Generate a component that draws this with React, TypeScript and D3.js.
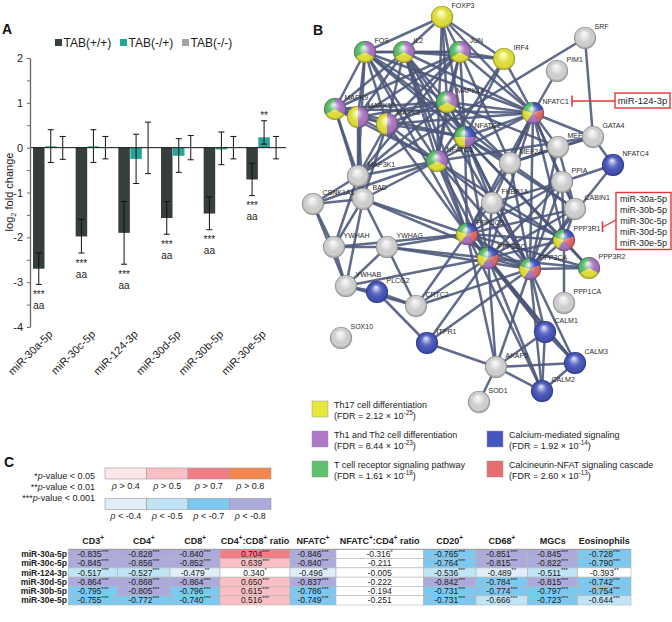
import React, { useEffect, useRef } from 'react';
import * as d3 from 'd3';

const FONT = '"Liberation Sans", Arial, Helvetica, sans-serif';

// ---------- panel A: qPCR fold changes
const mirnas = ['miR-30a-5p', 'miR-30c-5p', 'miR-124-3p', 'miR-30d-5p', 'miR-30b-5p', 'miR-30e-5p'];
const genotypes = ['TAB(+/+)', 'TAB(-/+)', 'TAB(-/-)'];
const genoColors = ['#363f3b', '#27a596', '#a3a3a3'];
const wtMean = [-2.7, -1.98, -1.9, -1.57, -1.47, -0.71];
const wtHi = [-2.35, -1.6, -1.2, -1.2, -1.1, -0.35];
const wtLo = [-3.05, -2.35, -2.6, -1.93, -1.83, -1.07];
const hetMean = [0.03, 0.03, -0.25, -0.18, -0.04, 0.23];
const hetHi = [0.4, 0.4, 0.3, 0.2, 0.35, 0.6];
const hetLo = [-0.33, -0.33, -0.8, -0.55, -0.38, 0.08];
const koMean = [0, 0, 0, 0, 0, 0];
const koHi = [0.25, 0.25, 0.57, 0.27, 0.25, 0.25];
const koLo = [-0.26, -0.25, -0.58, -0.27, -0.25, -0.25];
const wtStars = ['***', '***', '***', '***', '***', '***'];
const wtLetters = ['aa', 'aa', 'aa', 'aa', 'aa', 'aa'];
const hetStars = ['', '', '', '', '', '**'];
const yTicks = [-4, -3.5, -3, -2.5, -2, -1.5, -1, -0.5, 0, 0.5, 1, 1.5, 2];

// ---------- panel B: STRING network
const catColors: Record<string, string> = {
  B: '#4656bf', R: '#e56d6d', P: '#ad78c6', Y: '#e8e83c', G: '#5fc06e',
};
// name, layout x, layout y, enrichment categories
const nodes: [string, number, number, string][] = [
  ['FOXP3', 142, 17, 'Y'], ['FOS', 65, 52, 'PYG'], ['IL2', 104, 52, 'PYG'], ['JUN', 160, 52, 'PYG'],
  ['IRF4', 204, 59, 'Y'], ['SRF', 285, 38, ''], ['PIM1', 257, 71, ''], ['MAPK9', 35, 109, 'PYG'],
  ['MAPK10', 58, 117, 'PY'], ['MAPK8', 87, 124, 'PY'], ['MAPK14', 147, 102, 'PYG'],
  ['NFATC1', 233, 113, 'BRPYG'], ['NFATC2', 165, 137, 'BPYG'], ['NFATC3', 137, 161, 'PYG'],
  ['MAP3K1', 58, 176, ''], ['BAD', 63, 199, ''], ['CSNK1A1', 13, 204, ''], ['YWHAH', 34, 247, ''],
  ['YWHAG', 87, 247, ''], ['YWHAB', 46, 286, ''], ['PLCG2', 77, 292, 'B'], ['CRTC2', 116, 306, ''],
  ['SOX10', 41, 338, ''], ['ITPR1', 127, 343, 'B'], ['MEF2A', 210, 163, ''], ['MEF2C', 258, 147, ''],
  ['GATA4', 293, 137, ''], ['NFATC4', 313, 165, 'B'], ['PPIA', 262, 182, ''], ['CABIN1', 275, 209, ''],
  ['FKBP1A', 192, 203, ''], ['PPP3CB', 167, 234, 'BRPYG'], ['PPP3CC', 188, 258, 'BRPYG'],
  ['PPP3R1', 264, 240, 'BRPYG'], ['PPP3CA', 230, 269, 'BRPYG'], ['PPP3R2', 289, 268, 'PYG'],
  ['PPP1CA', 264, 303, ''], ['CALM1', 245, 332, 'B'], ['CALM3', 275, 363, 'B'], ['CALM2', 242, 391, 'B'],
  ['AKAP5', 196, 367, ''], ['SOD1', 179, 402, ''],
];
// labels that sit underneath a neighbouring node
const labelsUnder = ['MEF2C'];
const links: Record<string, string[]> = {
  FOXP3: ['FOS', 'IL2', 'JUN', 'NFATC1', 'NFATC2', 'IRF4', 'MAPK14', 'NFATC3'],
  FOS: ['IL2', 'JUN', 'MAPK9', 'MAPK10', 'MAPK8', 'MAPK14', 'NFATC1', 'NFATC2', 'NFATC3', 'MAP3K1', 'PPP3CB', 'MEF2A'],
  IL2: ['JUN', 'MAPK9', 'MAPK8', 'MAPK14', 'NFATC1', 'NFATC2', 'NFATC3', 'PPP3CA', 'PPP3CB', 'PPP3CC', 'IRF4', 'MAPK10'],
  JUN: ['MAPK9', 'MAPK10', 'MAPK8', 'MAPK14', 'NFATC1', 'NFATC2', 'NFATC3', 'IRF4', 'MAP3K1', 'MEF2A'],
  IRF4: ['NFATC1', 'NFATC2', 'NFATC3'],
  MAPK9: ['MAPK10', 'MAPK8', 'MAP3K1', 'MAPK14', 'NFATC3', 'NFATC2', 'NFATC1', 'BAD'],
  MAPK10: ['MAPK8', 'MAP3K1', 'MAPK14', 'NFATC3', 'BAD'],
  MAPK8: ['MAP3K1', 'MAPK14', 'NFATC3', 'NFATC2', 'NFATC1', 'BAD', 'PPP3CB'],
  MAPK14: ['NFATC1', 'NFATC2', 'NFATC3', 'MAP3K1', 'MEF2A', 'MEF2C', 'PPP3CA'],
  NFATC1: ['NFATC2', 'NFATC3', 'PPP3CA', 'PPP3CB', 'PPP3CC', 'PPP3R1', 'MEF2A', 'MEF2C', 'GATA4', 'PIM1', 'FKBP1A', 'CABIN1', 'PPIA'],
  NFATC2: ['NFATC3', 'PPP3CA', 'PPP3CB', 'PPP3CC', 'PPP3R1', 'MEF2A', 'FKBP1A', 'CABIN1', 'PPP3R2'],
  NFATC3: ['PPP3CA', 'PPP3CB', 'PPP3CC', 'PPP3R1', 'MAP3K1', 'FKBP1A', 'BAD', 'GATA4', 'CSNK1A1'],
  MAP3K1: ['BAD', 'CSNK1A1', 'YWHAH'],
  SRF: ['GATA4', 'MAP3K1'],
  GATA4: ['MEF2C', 'MEF2A', 'NFATC4'],
  NFATC4: ['PPIA', 'PPP3CA'],
  MEF2A: ['MEF2C', 'PPP3CA', 'CABIN1', 'PPP3CB'],
  MEF2C: ['PPP3CA', 'CABIN1'],
  PPIA: ['PPP3CA', 'PPP3CB', 'PPP3CC', 'FKBP1A', 'PPP3R1', 'CABIN1'],
  CABIN1: ['PPP3CA', 'PPP3CB', 'PPP3R1', 'PPP3CC'],
  FKBP1A: ['PPP3CA', 'PPP3CB', 'PPP3CC', 'PPP3R1'],
  PPP3CB: ['PPP3CC', 'PPP3CA', 'PPP3R1', 'PPP3R2', 'CALM1', 'CALM2', 'CALM3', 'AKAP5', 'YWHAG', 'YWHAH', 'CRTC2', 'BAD'],
  PPP3CC: ['PPP3CA', 'PPP3R1', 'PPP3R2', 'CALM1', 'CALM2', 'CALM3', 'AKAP5', 'YWHAG', 'CRTC2', 'ITPR1', 'YWHAB'],
  PPP3CA: ['PPP3R1', 'PPP3R2', 'CALM1', 'CALM2', 'CALM3', 'AKAP5', 'CRTC2', 'ITPR1', 'YWHAG', 'BAD'],
  PPP3R1: ['PPP3R2', 'PPP1CA'],
  CALM1: ['CALM2', 'CALM3', 'AKAP5'],
  CALM2: ['CALM3', 'AKAP5'],
  CALM3: ['AKAP5'],
  AKAP5: ['SOD1', 'ITPR1'],
  ITPR1: ['PLCG2'],
  PLCG2: ['YWHAB', 'CRTC2'],
  CRTC2: ['YWHAB', 'YWHAG'],
  YWHAH: ['YWHAG', 'YWHAB', 'BAD', 'CSNK1A1'],
  YWHAG: ['YWHAB', 'BAD'],
  YWHAB: ['BAD', 'CSNK1A1'],
  CSNK1A1: ['BAD'],
};
const mirTargets = [['miR-124-3p'], ['miR-30a-5p', 'miR-30b-5p', 'miR-30c-5p', 'miR-30d-5p', 'miR-30e-5p']];
const pathways = [
  { name: 'Th17 cell differentiation', fdr: '2.12 × 10{-25}', cat: 'Y' },
  { name: 'Th1 and Th2 cell differentiation', fdr: '8.44 × 10{-23}', cat: 'P' },
  { name: 'T cell receptor signaling pathway', fdr: '1.61 × 10{-18}', cat: 'G' },
  { name: 'Calcium-mediated signaling', fdr: '1.92 × 10{-14}', cat: 'B' },
  { name: 'Calcineurin-NFAT signaling cascade', fdr: '2.60 × 10{-13}', cat: 'R' },
];

// ---------- panel C: correlation table
const pLegend = [['*', ' < 0.05'], ['**', ' < 0.01'], ['***', ' < 0.001']];
const posBins = ['> 0.4', '> 0.5', '> 0.7', '> 0.8'];
const negBins = ['< -0.4', '< -0.5', '< -0.7', '< -0.8'];
const posColors = ['#fde5e8', '#f9bfc4', '#f27e85', '#f4874f'];
const negColors = ['#dfeef9', '#bfe4f6', '#7cc8ef', '#abaadb'];
const colHeaders = ['CD3{+}', 'CD4{+}', 'CD8{+}', 'CD4{+}:CD8{+} ratio', 'NFATC{+}', 'NFATC{+}:CD4{+} ratio', 'CD20{+}', 'CD68{+}', 'MGCs', 'Eosinophils'];
const rowHeaders = ['miR-30a-5p', 'miR-30c-5p', 'miR-124-3p', 'miR-30d-5p', 'miR-30b-5p', 'miR-30e-5p'];
const rho = [
  [-0.835, -0.828, -0.84, 0.704, -0.846, -0.316, -0.765, -0.851, -0.845, -0.728],
  [-0.845, -0.856, -0.852, 0.639, -0.84, -0.211, -0.764, -0.815, -0.822, -0.79],
  [-0.517, -0.527, -0.479, 0.34, -0.496, -0.005, -0.536, -0.489, -0.511, -0.393],
  [-0.864, -0.868, -0.864, 0.65, -0.837, -0.222, -0.842, -0.784, -0.815, -0.742],
  [-0.795, -0.805, -0.796, 0.615, -0.786, -0.194, -0.731, -0.774, -0.797, -0.754],
  [-0.755, -0.772, -0.74, 0.516, -0.749, -0.251, -0.731, -0.666, -0.723, -0.644],
];
const rhoSig = [
  ['***', '***', '***', '***', '***', '*', '***', '***', '***', '***'],
  ['***', '***', '***', '***', '***', '', '***', '***', '***', '***'],
  ['***', '***', '**', '*', '**', '', '***', '**', '***', '**'],
  ['***', '***', '***', '***', '***', '', '***', '***', '***', '***'],
  ['***', '***', '***', '***', '***', '', '***', '***', '***', '***'],
  ['***', '***', '***', '***', '***', '', '***', '***', '***', '***'],
];
const colWidths = [49.4, 52.3, 50, 70, 46, 87.3, 52.7, 51.7, 50, 53.3];

// text with {superscript} runs
function rich(t: any, s: string, size: number) {
  const parts = s.split(/(\{[^}]*\})/).filter((p) => p.length);
  let up = false;
  parts.forEach((p) => {
    const sup = p.startsWith('{');
    const ts = t.append('tspan').text(sup ? p.slice(1, -1) : p);
    if (sup) {
      ts.attr('font-size', size * 0.7).attr('dy', -size * 0.38);
      up = true;
    } else if (up) {
      ts.attr('dy', size * 0.38);
      up = false;
    }
  });
  return t;
}

export default function App() {
  const ref = useRef<SVGSVGElement>(null);

  useEffect(() => {
    const svg = d3.select(ref.current);
    svg.selectAll('*').remove();
    svg.attr('font-family', FONT);

    const defs = svg.append('defs');
    const gl = defs.append('radialGradient').attr('id', 'gloss')
      .attr('cx', '50%').attr('cy', '50%').attr('r', '50%').attr('fx', '45%').attr('fy', '28%');
    gl.append('stop').attr('offset', '0%').attr('stop-color', '#fff').attr('stop-opacity', 0.9);
    gl.append('stop').attr('offset', '40%').attr('stop-color', '#fff').attr('stop-opacity', 0.2);
    gl.append('stop').attr('offset', '80%').attr('stop-color', '#000').attr('stop-opacity', 0.04);
    gl.append('stop').attr('offset', '100%').attr('stop-color', '#000').attr('stop-opacity', 0.3);

    // ===== panel labels
    const letters: [string, number, number][] = [['A', 2, 34], ['B', 313, 35], ['C', 4, 467]];
    letters.forEach(([l, x, yy]) => svg.append('text').attr('x', x).attr('y', yy)
      .attr('font-size', 14).attr('font-weight', 'bold').attr('fill', '#111').text(l));

    // ===== panel A
    const y = d3.scaleLinear().domain([-4, 2]).range([327, 58]);
    const x0 = d3.scaleBand().domain(mirnas).range([30, 286]);
    const x1 = d3.scaleBand().domain(genotypes).range([3, 38.5]).paddingInner(0.04);
    const gA = svg.append('g');
    const series = [
      { key: genotypes[0], mean: wtMean, hi: wtHi, lo: wtLo, color: genoColors[0] },
      { key: genotypes[1], mean: hetMean, hi: hetHi, lo: hetLo, color: genoColors[1] },
      { key: genotypes[2], mean: koMean, hi: koHi, lo: koLo, color: genoColors[2] },
    ];
    series.forEach((s) => {
      mirnas.forEach((m, i) => {
        const bx = (x0(m) as number) + (x1(s.key) as number);
        const v = s.mean[i];
        gA.append('rect').attr('x', bx).attr('width', x1.bandwidth())
          .attr('y', y(Math.max(0, v))).attr('height', Math.abs(y(v) - y(0)))
          .attr('fill', s.color);
      });
    });
    gA.append('line').attr('x1', 30).attr('x2', 286).attr('y1', y(0)).attr('y2', y(0))
      .attr('stroke', '#111').attr('stroke-width', 1);
    series.forEach((s) => {
      mirnas.forEach((m, i) => {
        const cx = (x0(m) as number) + (x1(s.key) as number) + x1.bandwidth() / 2;
        gA.append('line').attr('x1', cx).attr('x2', cx).attr('y1', y(s.hi[i])).attr('y2', y(s.lo[i]))
          .attr('stroke', '#111').attr('stroke-width', 1);
        [s.hi[i], s.lo[i]].forEach((e) => gA.append('line').attr('x1', cx - 3).attr('x2', cx + 3)
          .attr('y1', y(e)).attr('y2', y(e)).attr('stroke', '#111').attr('stroke-width', 1));
      });
    });
    // significance marks
    mirnas.forEach((m, i) => {
      const cxw = (x0(m) as number) + (x1(genotypes[0]) as number) + x1.bandwidth() / 2;
      gA.append('text').attr('x', cxw).attr('y', y(wtLo[i]) + 13.5).attr('text-anchor', 'middle')
        .attr('font-size', 10).attr('fill', '#222').text(wtStars[i]);
      gA.append('text').attr('x', cxw).attr('y', y(wtLo[i]) + 24.5).attr('text-anchor', 'middle')
        .attr('font-size', 10).attr('fill', '#222').text(wtLetters[i]);
      if (hetStars[i]) {
        const cxh = (x0(m) as number) + (x1(genotypes[1]) as number) + x1.bandwidth() / 2;
        gA.append('text').attr('x', cxh).attr('y', y(hetHi[i]) - 1.5).attr('text-anchor', 'middle')
          .attr('font-size', 10).attr('fill', '#222').text(hetStars[i]);
      }
    });
    // y axis
    const ax = gA.append('g').attr('transform', 'translate(30,0)')
      .call(d3.axisLeft(y).tickValues(yTicks).tickSize(3).tickSizeOuter(0)
        .tickFormat((d: any) => (Number.isInteger(d) ? String(d) : '')) as any);
    ax.select('.domain').attr('stroke', '#666').attr('stroke-width', 1.3);
    ax.selectAll('.tick line').attr('stroke', '#666');
    ax.selectAll('.tick text').attr('font-size', 11).attr('font-family', FONT).attr('fill', '#222').attr('x', -7);
    const yl = gA.append('text').attr('transform', 'translate(13,192) rotate(-90)')
      .attr('text-anchor', 'middle').attr('font-size', 11).attr('fill', '#222');
    yl.append('tspan').text('log');
    yl.append('tspan').attr('font-size', 7.5).attr('dy', 3).text('2');
    yl.append('tspan').attr('dy', -3).text(' fold change');
    // x labels
    mirnas.forEach((m) => {
      const cx = (x0(m) as number) + x0.bandwidth() / 2 + 2;
      gA.append('text').attr('transform', `translate(${cx},335) rotate(-45)`)
        .attr('text-anchor', 'end').attr('font-size', 11).attr('fill', '#222').text(m);
    });
    // legend
    const legX = [55, 120, 182];
    genotypes.forEach((gname, i) => {
      gA.append('rect').attr('x', legX[i]).attr('y', 39).attr('width', 7).attr('height', 7).attr('fill', genoColors[i]);
      gA.append('text').attr('x', legX[i] + 8.5).attr('y', 46.5).attr('font-size', 12).attr('fill', '#222').text(gname);
    });

    // ===== panel B
    const xN = d3.scaleLinear().domain([0, 372]).range([300, 672]);
    const yN = d3.scaleLinear().domain([0, 622]).range([0, 622]);
    const pos = new Map(nodes.map((n) => [n[0], [xN(n[1]), yN(n[2])]]));
    const gB = svg.append('g');
    Object.entries(links).forEach(([a, bs]) => {
      bs.forEach((b) => {
        const pa = pos.get(a)!, pb = pos.get(b)!;
        gB.append('line').attr('x1', pa[0]).attr('y1', pa[1]).attr('x2', pb[0]).attr('y2', pb[1])
          .attr('stroke', '#4a5579').attr('stroke-opacity', 0.88).attr('stroke-width', 2.5);
      });
    });
    const drawLabel = (name: string, lx: number, ly: number) =>
      gB.append('text').attr('x', xN(lx) + 9.5).attr('y', yN(ly) - 9).attr('font-size', 7)
        .attr('fill', '#2a2a2a').text(name);
    nodes.filter((n) => labelsUnder.includes(n[0])).forEach(([name, lx, ly]) => drawLabel(name, lx, ly));
    const order = 'BRPYG';
    const arc = d3.arc<any>().innerRadius(0).outerRadius(11);
    nodes.forEach(([, lx, ly, cats]) => {
      const g = gB.append('g').attr('transform', `translate(${xN(lx)},${yN(ly)})`);
      if (!cats) {
        g.append('circle').attr('r', 11).attr('fill', '#d9d9d9');
      } else if (cats.length === 1) {
        g.append('circle').attr('r', 11).attr('fill', catColors[cats]);
      } else {
        const sorted = cats.split('').sort((a, b) => order.indexOf(a) - order.indexOf(b));
        const arcs = d3.pie<string>().value(1).sort(null)(sorted);
        g.selectAll('path').data(arcs).join('path').attr('d', arc).attr('fill', (d: any) => catColors[d.data]);
      }
      g.append('circle').attr('r', 11).attr('fill', 'url(#gloss)')
        .attr('stroke', 'rgba(0,0,0,0.18)').attr('stroke-width', 0.6);
    });
    nodes.filter((n) => !labelsUnder.includes(n[0])).forEach(([name, lx, ly]) => drawLabel(name, lx, ly));
    // miRNA boxes
    const red = '#e5343b';
    const box1 = gB.append('g');
    box1.append('rect').attr('x', 615).attr('y', 93).attr('width', 55).attr('height', 15)
      .attr('fill', '#fff').attr('stroke', red).attr('stroke-width', 1.4);
    box1.append('text').attr('x', 642.5).attr('y', 104).attr('text-anchor', 'middle')
      .attr('font-size', 9.5).attr('fill', '#222').text(mirTargets[0][0]);
    box1.append('line').attr('x1', 615).attr('x2', 572).attr('y1', 101).attr('y2', 101).attr('stroke', red).attr('stroke-width', 1.4);
    box1.append('line').attr('x1', 572).attr('x2', 572).attr('y1', 95.5).attr('y2', 106.5).attr('stroke', red).attr('stroke-width', 1.6);
    const box2 = gB.append('g');
    box2.append('rect').attr('x', 616).attr('y', 192.5).attr('width', 55).attr('height', 57)
      .attr('fill', '#fff').attr('stroke', red).attr('stroke-width', 1.4);
    mirTargets[1].forEach((m, i) => box2.append('text').attr('x', 643.5).attr('y', 201.5 + i * 11)
      .attr('text-anchor', 'middle').attr('font-size', 9).attr('fill', '#222').text(m));
    box2.append('line').attr('x1', 616).attr('x2', 603).attr('y1', 220).attr('y2', 227).attr('stroke', red).attr('stroke-width', 1.4);
    box2.append('line').attr('x1', 602.5).attr('x2', 602.5).attr('y1', 221.5).attr('y2', 232).attr('stroke', red).attr('stroke-width', 1.6);
    // pathway legend
    const legCol = [312, 487];
    const legRow = [401, 431, 461];
    pathways.forEach((p, i) => {
      const cx = legCol[i < 3 ? 0 : 1];
      const cy = legRow[i < 3 ? i : i - 2];
      gB.append('rect').attr('x', cx).attr('y', cy).attr('width', 16).attr('height', 16)
        .attr('fill', catColors[p.cat]).attr('stroke', '#999').attr('stroke-width', 0.5);
      gB.append('text').attr('x', cx + 22).attr('y', cy + 7).attr('font-size', 9).attr('fill', '#222').text(p.name);
      rich(gB.append('text').attr('x', cx + 22).attr('y', cy + 17.5).attr('font-size', 9).attr('fill', '#222'),
        `(FDR = ${p.fdr})`, 9);
    });

    // ===== panel C
    const gC = svg.append('g');
    pLegend.forEach(([stars, rest], i) => {
      const t = gC.append('text').attr('x', 95).attr('y', 479 + i * 10.8).attr('text-anchor', 'end')
        .attr('font-size', 9).attr('fill', '#222');
      t.append('tspan').text(stars);
      t.append('tspan').attr('font-style', 'italic').text('p');
      t.append('tspan').text('-value' + rest);
    });
    const xs = d3.scaleBand().domain(d3.range(4).map(String)).range([105, 271]);
    [[posBins, posColors, 468, 11], [negBins, negColors, 498.5, 11]].forEach(([bins, cols, top, h]: any) => {
      bins.forEach((b: string, i: number) => {
        gC.append('rect').attr('x', xs(String(i))!).attr('y', top).attr('width', xs.bandwidth()).attr('height', h)
          .attr('fill', cols[i]).attr('stroke', '#9a9a9a').attr('stroke-width', 0.6);
        const t = gC.append('text').attr('x', xs(String(i))! + xs.bandwidth() / 2).attr('y', top + h + 9.5)
          .attr('text-anchor', 'middle').attr('font-size', 9).attr('fill', '#222');
        t.append('tspan').attr('font-style', 'italic').text('ρ');
        t.append('tspan').text(' ' + b);
      });
    });
    const cellColor = d3.scaleThreshold<number, string>()
      .domain([-0.8, -0.7, -0.5, -0.4, 0.4, 0.5, 0.7, 0.8])
      .range([negColors[3], negColors[2], negColors[1], negColors[0], '#ffffff', posColors[0], posColors[1], posColors[2], posColors[3]]);
    const colX = [68.3];
    colWidths.forEach((w, i) => colX.push(colX[i] + w));
    const yr = d3.scaleBand().domain(rowHeaders).range([549.3, 605]);
    colHeaders.forEach((h, j) => {
      rich(gC.append('text').attr('x', (colX[j] + colX[j + 1]) / 2).attr('y', 543.5).attr('text-anchor', 'middle')
        .attr('font-size', 9).attr('font-weight', 'bold').attr('fill', '#222'), h, 9);
    });
    rowHeaders.forEach((r, i) => {
      const ry = yr(r)!;
      gC.append('text').attr('x', 67).attr('y', ry + yr.bandwidth() / 2 + 3).attr('text-anchor', 'end')
        .attr('font-size', 8.5).attr('font-weight', 'bold').attr('fill', '#222').text(r);
      rho[i].forEach((v, j) => {
        gC.append('rect').attr('x', colX[j]).attr('y', ry).attr('width', colWidths[j]).attr('height', yr.bandwidth())
          .attr('fill', cellColor(v)).attr('stroke', '#b5b5b5').attr('stroke-width', 0.6);
        const label = v.toFixed(3) + (rhoSig[i][j] ? `{${rhoSig[i][j]}}` : '');
        rich(gC.append('text').attr('x', (colX[j] + colX[j + 1]) / 2).attr('y', ry + yr.bandwidth() / 2 + 3)
          .attr('text-anchor', 'middle').attr('font-size', 8.5).attr('fill', '#222'), label, 8.5);
      });
    });
    gC.append('line').attr('x1', 68.3).attr('x2', colX[colX.length - 1]).attr('y1', 549.3).attr('y2', 549.3)
      .attr('stroke', '#999').attr('stroke-width', 1);
  }, []);

  return (
    <svg ref={ref} width={672} height={622}
      style={{ position: 'absolute', left: 0, top: 0, background: '#fff' }} />
  );
}
